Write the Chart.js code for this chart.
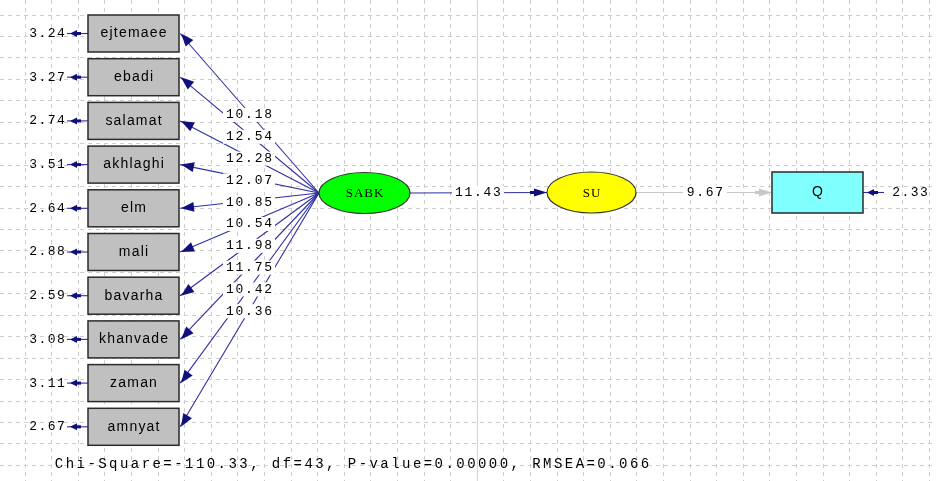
<!DOCTYPE html>
<html>
<head>
<meta charset="utf-8">
<script src="https://cdn.jsdelivr.net/npm/chart.js@4.4.1/dist/chart.umd.min.js"></script>
<style>
  html, body { margin: 0; padding: 0; background: #fff; }
  #wrap { width: 936px; height: 481px; }
</style>
</head>
<body>
<div id="wrap"><canvas id="diagram" width="936" height="481"></canvas></div>
<script>
// --- model values ---
const indicators = ['ejtemaee', 'ebadi', 'salamat', 'akhlaghi', 'elm', 'mali', 'bavarha', 'khanvade', 'zaman', 'amnyat'];
const loadings = [10.18, 12.54, 12.28, 12.07, 10.85, 10.54, 11.98, 11.75, 10.42, 10.36];
const errorVars = [3.24, 3.27, 2.74, 3.51, 2.64, 2.88, 2.59, 3.08, 3.11, 2.67];
const latentNames = ['SABK', 'SU'];
const structPaths = [11.43];
const outcomeName = 'Q';
const outcomePaths = [9.67];
const outcomeErrors = [2.33];
const fitLine = 'Chi-Square=-110.33, df=43, P-value=0.00000, RMSEA=0.066';

// --- layout (diagram units, 1 unit = 1 px of the original) ---
const W = 936, H = 481;
const box = { x: 88, w: 91, top: 15, h: 37, step: 43.7 };
const sabk = { x: 364.5, y: 193, rx: 45.5, ry: 20.5 };
const su = { x: 591.5, y: 192.5, rx: 44.5, ry: 20.5 };
const qBox = { x: 772, y: 172, w: 91, h: 41 };
const labelCol = { x: 249, top: 115, step: 21.8 };
const grid = { x0: 25, dx: 26.6, y0: 15, dy: 21.45, solidAt: 17 };

const NAVY = '#10107c';
const LINE = '#2e2ea4';
const GREY = '#c8c8c8';
const GRID = '#cdcdcd';

const rowY = i => box.top + box.h / 2 + i * box.step;

// path segments as line datasets
const lineSets = [];
indicators.forEach((name, i) => {
  lineSets.push({
    data: [{ x: sabk.x - sabk.rx, y: sabk.y }, { x: box.x + box.w + 1, y: rowY(i) }],
    borderColor: LINE
  });
  lineSets.push({
    data: [{ x: box.x, y: rowY(i) }, { x: 67, y: rowY(i) }],
    borderColor: LINE
  });
});
lineSets.push({ data: [{ x: sabk.x + sabk.rx, y: sabk.y }, { x: su.x - su.rx, y: su.y }], borderColor: LINE });
lineSets.push({ data: [{ x: su.x + su.rx, y: su.y }, { x: qBox.x, y: su.y }], borderColor: GREY });
lineSets.push({ data: [{ x: qBox.x + qBox.w, y: su.y }, { x: 884, y: su.y }], borderColor: LINE });
lineSets.forEach(d => Object.assign(d, { showLine: true, pointRadius: 0, borderWidth: 1.1, fill: false }));

function spacedText(ctx, text, cx, cy, adv) {
  const total = adv * text.length;
  let x = cx - total / 2;
  ctx.textAlign = 'center';
  for (const ch of text) {
    ctx.fillText(ch, x + adv / 2, cy);
    x += adv;
  }
}

function propText(ctx, text, cx, cy, extra) {
  const widths = [...text].map(ch => ctx.measureText(ch).width + extra);
  const total = widths.reduce((a, b) => a + b, 0) - extra;
  let x = cx - total / 2;
  ctx.textAlign = 'left';
  [...text].forEach((ch, k) => { ctx.fillText(ch, x, cy); x += widths[k]; });
}

function arrowHead(ctx, tip, from, len, half, color) {
  const dx = tip.x - from.x, dy = tip.y - from.y;
  const d = Math.hypot(dx, dy);
  const ux = dx / d, uy = dy / d;
  const bx = tip.x - ux * len, by = tip.y - uy * len;
  ctx.fillStyle = color;
  ctx.beginPath();
  ctx.moveTo(tip.x, tip.y);
  ctx.lineTo(bx - uy * half, by + ux * half);
  ctx.lineTo(bx + uy * half, by - ux * half);
  ctx.closePath();
  ctx.fill();
}

// short error arrow: small head plus a thick stub behind it
function errorHead(ctx, tipX, cy, dir) {
  arrowHead(ctx, { x: tipX, y: cy }, { x: tipX - dir * 20, y: cy }, 7, 3.5, NAVY);
  ctx.fillRect(dir > 0 ? tipX - 11 : tipX + 6, cy - 1.5, 5, 3);
}

const diagramPlugin = {
  id: 'diagram',
  beforeDatasetsDraw(chart) {
    const { ctx, scales: { x } } = chart;
    // one grid column is drawn as a lighter solid line
    const gx = Math.round(x.getPixelForValue(grid.x0 + grid.solidAt * grid.dx)) + 0.5;
    ctx.save();
    ctx.strokeStyle = '#d4d4d4';
    ctx.lineWidth = 1;
    ctx.beginPath();
    ctx.moveTo(gx, 0);
    ctx.lineTo(gx, H);
    ctx.stroke();
    ctx.restore();
  },
  afterDatasetsDraw(chart) {
    const { ctx, scales: { x, y } } = chart;
    const P = (px, py) => ({ x: x.getPixelForValue(px), y: y.getPixelForValue(py) });
    ctx.save();
    ctx.textBaseline = 'middle';

    // loading labels on white patches
    ctx.font = '13px "Liberation Mono"';
    loadings.forEach((v, i) => {
      const p = P(labelCol.x, labelCol.top + i * labelCol.step);
      ctx.fillStyle = '#fff';
      ctx.fillRect(p.x - 26, p.y - 7, 52, 14);
      ctx.fillStyle = '#000';
      spacedText(ctx, v.toFixed(2), p.x, p.y, 9.6);
    });

    // arrowheads at the indicator boxes
    indicators.forEach((name, i) => {
      const tip = P(box.x + box.w + 2, rowY(i));
      arrowHead(ctx, tip, P(sabk.x - sabk.rx, sabk.y), 13, 5, NAVY);
      const et = P(70, rowY(i));
      errorHead(ctx, et.x, et.y, -1);
    });

    // indicator boxes
    indicators.forEach((name, i) => {
      const tl = P(box.x, rowY(i) - box.h / 2);
      const br = P(box.x + box.w, rowY(i) + box.h / 2);
      ctx.fillStyle = '#c0c0c0';
      ctx.fillRect(tl.x, tl.y, br.x - tl.x, br.y - tl.y);
      ctx.strokeStyle = '#2a2a2a';
      ctx.lineWidth = 1.5;
      ctx.strokeRect(tl.x, tl.y, br.x - tl.x, br.y - tl.y);
      ctx.fillStyle = '#000';
      ctx.font = '14px "Liberation Sans"';
      propText(ctx, name, (tl.x + br.x) / 2, (tl.y + br.y) / 2, 1.2);
      // error variance
      ctx.font = '13px "Liberation Mono"';
      const e = P(47, rowY(i));
      spacedText(ctx, errorVars[i].toFixed(2), e.x, e.y, 9.3);
    });

    // structural path labels
    const l1 = P(478, sabk.y);
    ctx.fillStyle = '#fff';
    ctx.fillRect(l1.x - 26, l1.y - 7, 52, 14);
    ctx.fillStyle = '#000';
    spacedText(ctx, structPaths[0].toFixed(2), l1.x, l1.y, 9.5);
    arrowHead(ctx, P(su.x - su.rx, su.y), P(sabk.x, su.y), 13, 4, NAVY);
    ctx.fillRect(P(su.x - su.rx - 17, 0).x, P(0, su.y).y - 1.5, 6, 3);

    const l2 = P(705, su.y);
    ctx.fillStyle = '#fff';
    ctx.fillRect(l2.x - 22, l2.y - 7, 44, 14);
    ctx.fillStyle = '#000';
    spacedText(ctx, outcomePaths[0].toFixed(2), l2.x, l2.y, 9.5);
    arrowHead(ctx, P(qBox.x, su.y), P(su.x, su.y), 13, 4, GREY);
    ctx.fillRect(P(qBox.x - 17, 0).x, P(0, su.y).y - 1.5, 6, 3);

    // latent ellipses
    [[sabk, '#00ff00', latentNames[0]], [su, '#ffff00', latentNames[1]]].forEach(([n, col, txt]) => {
      const c = P(n.x, n.y);
      ctx.beginPath();
      ctx.ellipse(c.x, c.y, n.rx, n.ry, 0, 0, Math.PI * 2);
      ctx.fillStyle = col;
      ctx.fill();
      ctx.strokeStyle = '#333';
      ctx.lineWidth = 1.2;
      ctx.stroke();
      ctx.fillStyle = '#000';
      ctx.font = '13px "Liberation Serif"';
      propText(ctx, txt, c.x, c.y + 1, 1);
    });

    // outcome box
    const q1 = P(qBox.x, qBox.y), q2 = P(qBox.x + qBox.w, qBox.y + qBox.h);
    ctx.fillStyle = '#80ffff';
    ctx.fillRect(q1.x, q1.y, q2.x - q1.x, q2.y - q1.y);
    ctx.strokeStyle = '#2a2a2a';
    ctx.lineWidth = 1.5;
    ctx.strokeRect(q1.x, q1.y, q2.x - q1.x, q2.y - q1.y);
    ctx.fillStyle = '#000';
    ctx.font = '14px "Liberation Sans"';
    propText(ctx, outcomeName, (q1.x + q2.x) / 2, (q1.y + q2.y) / 2, 0);
    const qt = P(qBox.x + qBox.w + 4, su.y);
    errorHead(ctx, qt.x, qt.y, -1);
    ctx.font = '13px "Liberation Mono"';
    ctx.fillStyle = '#000';
    const qe = P(910, su.y);
    spacedText(ctx, outcomeErrors[0].toFixed(2), qe.x, qe.y, 9.3);

    // fit statistics
    ctx.font = '14px "Liberation Mono"';
    const f = P(352, 464);
    spacedText(ctx, fitLine, f.x, f.y, 10.85);
    ctx.restore();
  }
};

const gridTicks = (start, step, max) => {
  const out = [];
  for (let v = start; v <= max; v += step) out.push({ value: v });
  return out;
};

new Chart(document.getElementById('diagram'), {
  type: 'scatter',
  data: { datasets: lineSets },
  options: {
    responsive: false,
    animation: false,
    layout: { padding: 0 },
    plugins: { legend: { display: false }, tooltip: { enabled: false } },
    scales: {
      x: {
        type: 'linear', min: 0, max: W,
        afterBuildTicks: s => { s.ticks = gridTicks(grid.x0, grid.dx, W); },
        ticks: { display: false },
        grid: { color: GRID, drawTicks: false, lineWidth: 1 },
        border: { display: false, dash: [4, 4] }
      },
      y: {
        type: 'linear', min: 0, max: H, reverse: true,
        afterBuildTicks: s => { s.ticks = gridTicks(grid.y0, grid.dy, H); },
        ticks: { display: false },
        grid: { color: GRID, drawTicks: false, lineWidth: 1 },
        border: { display: false, dash: [4, 4] }
      }
    }
  },
  plugins: [diagramPlugin]
});
</script>
</body>
</html>
